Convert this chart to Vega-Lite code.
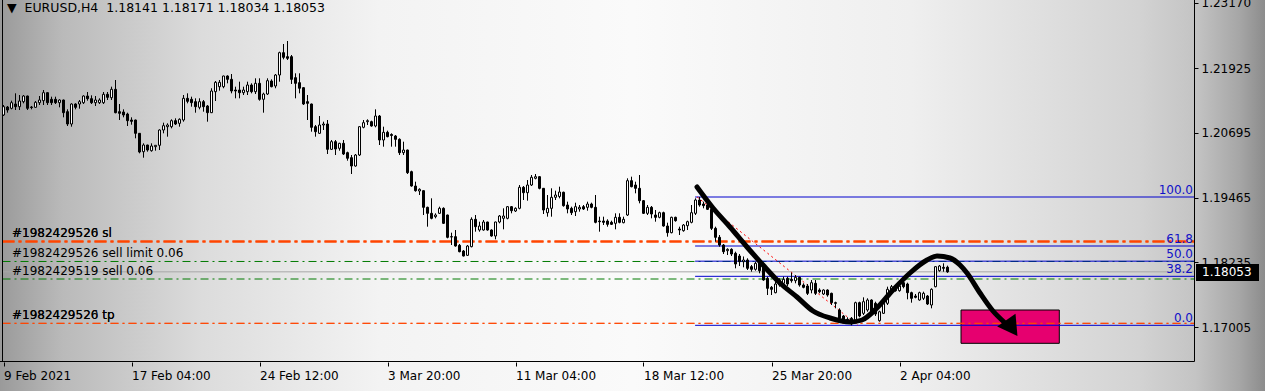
{
"$schema":"https://vega.github.io/schema/vega-lite/v6.json",
"width":1265,"height":391,"autosize":{"type":"none"},"padding":0,
"background":"#c0c0c0",
"config":{
 "view":{"stroke":null,"fill":{"gradient":"linear","x1":0,"y1":0,"x2":1,"y2":0,"stops":[{"offset":0,"color":"#9a9a9a"},{"offset":0.05,"color":"#bababa"},{"offset":0.16,"color":"#dcdcdc"},{"offset":0.3,"color":"#f3f3f3"},{"offset":0.5,"color":"#fafafa"},{"offset":0.72,"color":"#efefef"},{"offset":0.9,"color":"#d3d3d3"},{"offset":0.945,"color":"#c4c4c4"},{"offset":0.98,"color":"#a6a6a6"},{"offset":1,"color":"#8c8c8c"}]}},
 "scale":{"continuousPadding":0},
 "axis":{"labelFont":"DejaVu Sans","labelFontSize":12,"labelColor":"#000000","tickColor":"#000000","domain":false,"grid":false},
 "text":{"font":"DejaVu Sans","fontSize":12}
},
"datasets":{
 "candles":[
{"i":0,"o":1.21033,"h":1.21223,"l":1.21014,"c":1.21191},
{"i":1,"o":1.21185,"h":1.21204,"l":1.21077,"c":1.21128},
{"i":2,"o":1.2116,"h":1.21305,"l":1.21141,"c":1.21267},
{"i":3,"o":1.21242,"h":1.21445,"l":1.21128,"c":1.21191},
{"i":4,"o":1.21191,"h":1.21413,"l":1.21128,"c":1.21299},
{"i":5,"o":1.21286,"h":1.21413,"l":1.21255,"c":1.21394},
{"i":6,"o":1.21394,"h":1.214,"l":1.21128,"c":1.2116},
{"i":7,"o":1.21185,"h":1.21204,"l":1.21141,"c":1.21175},
{"i":8,"o":1.21179,"h":1.21299,"l":1.21166,"c":1.21274},
{"i":9,"o":1.21267,"h":1.21394,"l":1.21223,"c":1.21318},
{"i":10,"o":1.21305,"h":1.21508,"l":1.21223,"c":1.21457},
{"i":11,"o":1.21457,"h":1.21462,"l":1.21223,"c":1.21267},
{"i":12,"o":1.21331,"h":1.21381,"l":1.21223,"c":1.21267},
{"i":13,"o":1.21331,"h":1.21381,"l":1.21242,"c":1.21267},
{"i":14,"o":1.21267,"h":1.21331,"l":1.21179,"c":1.21318},
{"i":15,"o":1.21318,"h":1.21325,"l":1.20989,"c":1.21077},
{"i":16,"o":1.21096,"h":1.21141,"l":1.20824,"c":1.20862},
{"i":17,"o":1.20862,"h":1.21255,"l":1.20811,"c":1.21242},
{"i":18,"o":1.21242,"h":1.21255,"l":1.21141,"c":1.21179},
{"i":19,"o":1.21242,"h":1.21318,"l":1.21153,"c":1.21286},
{"i":20,"o":1.21267,"h":1.21407,"l":1.21242,"c":1.21394},
{"i":21,"o":1.21394,"h":1.2147,"l":1.21305,"c":1.21343},
{"i":22,"o":1.21343,"h":1.21407,"l":1.21242,"c":1.21267},
{"i":23,"o":1.21267,"h":1.21394,"l":1.21204,"c":1.21318},
{"i":24,"o":1.21267,"h":1.2135,"l":1.21242,"c":1.21318},
{"i":25,"o":1.21267,"h":1.2147,"l":1.21242,"c":1.21426},
{"i":26,"o":1.21426,"h":1.2147,"l":1.21318,"c":1.21369},
{"i":27,"o":1.21362,"h":1.21571,"l":1.21318,"c":1.21521},
{"i":28,"o":1.21521,"h":1.21698,"l":1.21065,"c":1.21077},
{"i":29,"o":1.21096,"h":1.21242,"l":1.20938,"c":1.21065},
{"i":30,"o":1.2109,"h":1.21141,"l":1.20989,"c":1.21033},
{"i":31,"o":1.21052,"h":1.21077,"l":1.20824,"c":1.20925},
{"i":32,"o":1.20938,"h":1.20989,"l":1.20849,"c":1.20913},
{"i":33,"o":1.20938,"h":1.20945,"l":1.2059,"c":1.20685},
{"i":34,"o":1.20685,"h":1.2069,"l":1.20305,"c":1.2033},
{"i":35,"o":1.20336,"h":1.20495,"l":1.20222,"c":1.20463},
{"i":36,"o":1.20463,"h":1.20468,"l":1.20336,"c":1.20368},
{"i":37,"o":1.20355,"h":1.20495,"l":1.20336,"c":1.20444},
{"i":38,"o":1.20431,"h":1.2046,"l":1.20355,"c":1.20457},
{"i":39,"o":1.20457,"h":1.20761,"l":1.20368,"c":1.20748},
{"i":40,"o":1.20748,"h":1.20887,"l":1.20685,"c":1.2083},
{"i":41,"o":1.20811,"h":1.20875,"l":1.20621,"c":1.20843},
{"i":42,"o":1.20811,"h":1.20951,"l":1.2078,"c":1.20925},
{"i":43,"o":1.20925,"h":1.2097,"l":1.20843,"c":1.20862},
{"i":44,"o":1.20875,"h":1.2097,"l":1.20811,"c":1.20951},
{"i":45,"o":1.20938,"h":1.21413,"l":1.20906,"c":1.2135},
{"i":46,"o":1.2135,"h":1.21445,"l":1.21255,"c":1.21293},
{"i":47,"o":1.21331,"h":1.21381,"l":1.21191,"c":1.21267},
{"i":48,"o":1.21286,"h":1.2135,"l":1.21077,"c":1.21191},
{"i":49,"o":1.21179,"h":1.2135,"l":1.21141,"c":1.21286},
{"i":50,"o":1.21286,"h":1.21318,"l":1.21096,"c":1.21191},
{"i":51,"o":1.21204,"h":1.21223,"l":1.20906,"c":1.21077},
{"i":52,"o":1.21077,"h":1.21541,"l":1.2107,"c":1.21489},
{"i":53,"o":1.21476,"h":1.21679,"l":1.21299,"c":1.21654},
{"i":54,"o":1.21571,"h":1.21698,"l":1.21495,"c":1.21654},
{"i":55,"o":1.21571,"h":1.2178,"l":1.21541,"c":1.21774},
{"i":56,"o":1.21774,"h":1.21787,"l":1.21635,"c":1.21711},
{"i":57,"o":1.21711,"h":1.21812,"l":1.21445,"c":1.21489},
{"i":58,"o":1.21508,"h":1.21571,"l":1.2135,"c":1.21489},
{"i":59,"o":1.21508,"h":1.21666,"l":1.2135,"c":1.21457},
{"i":60,"o":1.21457,"h":1.21571,"l":1.21413,"c":1.21508},
{"i":61,"o":1.21476,"h":1.21666,"l":1.21413,"c":1.21603},
{"i":62,"o":1.21603,"h":1.21635,"l":1.21445,"c":1.21476},
{"i":63,"o":1.21476,"h":1.2173,"l":1.21432,"c":1.21635},
{"i":64,"o":1.21635,"h":1.2173,"l":1.21305,"c":1.21331},
{"i":65,"o":1.21331,"h":1.21457,"l":1.21077,"c":1.21432},
{"i":66,"o":1.21432,"h":1.2173,"l":1.21413,"c":1.21685},
{"i":67,"o":1.21679,"h":1.21711,"l":1.21559,"c":1.21571},
{"i":68,"o":1.21584,"h":1.21812,"l":1.21541,"c":1.21793},
{"i":69,"o":1.21793,"h":1.22236,"l":1.21666,"c":1.22217},
{"i":70,"o":1.22217,"h":1.22382,"l":1.22091,"c":1.22129},
{"i":71,"o":1.22141,"h":1.22439,"l":1.22078,"c":1.2211},
{"i":72,"o":1.22141,"h":1.22173,"l":1.21622,"c":1.21711},
{"i":73,"o":1.21742,"h":1.21825,"l":1.2135,"c":1.21635},
{"i":74,"o":1.21647,"h":1.21825,"l":1.21445,"c":1.21541},
{"i":75,"o":1.21552,"h":1.21559,"l":1.21223,"c":1.21242},
{"i":76,"o":1.21286,"h":1.21413,"l":1.20938,"c":1.21255},
{"i":77,"o":1.21242,"h":1.2125,"l":1.20716,"c":1.20799},
{"i":78,"o":1.20811,"h":1.20843,"l":1.20621,"c":1.20716},
{"i":79,"o":1.20685,"h":1.21014,"l":1.20672,"c":1.20843},
{"i":80,"o":1.20843,"h":1.20906,"l":1.20748,"c":1.20862},
{"i":81,"o":1.20862,"h":1.20938,"l":1.20292,"c":1.20381},
{"i":82,"o":1.20381,"h":1.20558,"l":1.20368,"c":1.20526},
{"i":83,"o":1.20526,"h":1.20558,"l":1.20273,"c":1.20387},
{"i":84,"o":1.204,"h":1.20505,"l":1.20355,"c":1.20495},
{"i":85,"o":1.20495,"h":1.20558,"l":1.20273,"c":1.20292},
{"i":86,"o":1.20317,"h":1.20336,"l":1.20165,"c":1.20211},
{"i":87,"o":1.20222,"h":1.20273,"l":1.19912,"c":1.20064},
{"i":88,"o":1.20064,"h":1.20292,"l":1.20051,"c":1.20273},
{"i":89,"o":1.20273,"h":1.20818,"l":1.20254,"c":1.20811},
{"i":90,"o":1.20799,"h":1.20938,"l":1.2078,"c":1.20887},
{"i":91,"o":1.20906,"h":1.20951,"l":1.20843,"c":1.20925},
{"i":92,"o":1.20906,"h":1.20925,"l":1.20811,"c":1.20824},
{"i":93,"o":1.20824,"h":1.21141,"l":1.20799,"c":1.21014},
{"i":94,"o":1.21014,"h":1.21033,"l":1.20463,"c":1.20558},
{"i":95,"o":1.20558,"h":1.20811,"l":1.20431,"c":1.20704},
{"i":96,"o":1.20704,"h":1.20735,"l":1.20609,"c":1.20621},
{"i":97,"o":1.20663,"h":1.20685,"l":1.20431,"c":1.20644},
{"i":98,"o":1.20634,"h":1.20653,"l":1.20431,"c":1.20571},
{"i":99,"o":1.20571,"h":1.2059,"l":1.20273,"c":1.20317},
{"i":100,"o":1.20317,"h":1.20526,"l":1.20273,"c":1.20368},
{"i":101,"o":1.20368,"h":1.20375,"l":1.19912,"c":1.19937},
{"i":102,"o":1.19956,"h":1.19975,"l":1.19671,"c":1.19684},
{"i":103,"o":1.19684,"h":1.19766,"l":1.19576,"c":1.19595},
{"i":104,"o":1.19589,"h":1.1964,"l":1.19513,"c":1.19621},
{"i":105,"o":1.19595,"h":1.196,"l":1.19133,"c":1.19279},
{"i":106,"o":1.19279,"h":1.19291,"l":1.18911,"c":1.19165},
{"i":107,"o":1.19165,"h":1.1945,"l":1.19051,"c":1.1907},
{"i":108,"o":1.19101,"h":1.19165,"l":1.1907,"c":1.19133},
{"i":109,"o":1.19165,"h":1.19291,"l":1.19152,"c":1.1926},
{"i":110,"o":1.1926,"h":1.19279,"l":1.18962,"c":1.18975},
{"i":111,"o":1.19133,"h":1.1914,"l":1.1869,"c":1.18709},
{"i":112,"o":1.18721,"h":1.18797,"l":1.18563,"c":1.18715},
{"i":113,"o":1.18721,"h":1.18848,"l":1.18531,"c":1.18544},
{"i":114,"o":1.18557,"h":1.18582,"l":1.18424,"c":1.18436},
{"i":115,"o":1.18449,"h":1.18468,"l":1.18345,"c":1.18354},
{"i":116,"o":1.18367,"h":1.18563,"l":1.18354,"c":1.18544},
{"i":117,"o":1.18531,"h":1.19089,"l":1.18519,"c":1.19051},
{"i":118,"o":1.19051,"h":1.19133,"l":1.18816,"c":1.18911},
{"i":119,"o":1.18848,"h":1.19006,"l":1.18816,"c":1.18924},
{"i":120,"o":1.18848,"h":1.19038,"l":1.18835,"c":1.19},
{"i":121,"o":1.19,"h":1.19006,"l":1.18835,"c":1.18848},
{"i":122,"o":1.18848,"h":1.18861,"l":1.18721,"c":1.18734},
{"i":123,"o":1.18734,"h":1.19006,"l":1.18671,"c":1.19},
{"i":124,"o":1.19,"h":1.19133,"l":1.18975,"c":1.19114},
{"i":125,"o":1.1907,"h":1.1926,"l":1.18861,"c":1.19114},
{"i":126,"o":1.1907,"h":1.19304,"l":1.19051,"c":1.19291},
{"i":127,"o":1.19291,"h":1.19304,"l":1.19165,"c":1.19215},
{"i":128,"o":1.19209,"h":1.19279,"l":1.1919,"c":1.1926},
{"i":129,"o":1.1926,"h":1.19703,"l":1.19241,"c":1.19659},
{"i":130,"o":1.19659,"h":1.19684,"l":1.19418,"c":1.19557},
{"i":131,"o":1.19557,"h":1.19798,"l":1.19405,"c":1.19703},
{"i":132,"o":1.19703,"h":1.19893,"l":1.19684,"c":1.19849},
{"i":133,"o":1.1983,"h":1.19912,"l":1.19811,"c":1.19861},
{"i":134,"o":1.19861,"h":1.1987,"l":1.19621,"c":1.1964},
{"i":135,"o":1.1964,"h":1.19645,"l":1.19152,"c":1.19228},
{"i":136,"o":1.19177,"h":1.19513,"l":1.19101,"c":1.1926},
{"i":137,"o":1.1926,"h":1.1964,"l":1.19101,"c":1.19469},
{"i":138,"o":1.19469,"h":1.19595,"l":1.19418,"c":1.19513},
{"i":139,"o":1.19485,"h":1.19671,"l":1.1945,"c":1.1957},
{"i":140,"o":1.19565,"h":1.19576,"l":1.19291,"c":1.1931},
{"i":141,"o":1.19323,"h":1.19386,"l":1.19165,"c":1.19247},
{"i":142,"o":1.1926,"h":1.19291,"l":1.19133,"c":1.19177},
{"i":143,"o":1.19196,"h":1.19367,"l":1.19114,"c":1.19291},
{"i":144,"o":1.19247,"h":1.19323,"l":1.19196,"c":1.19279},
{"i":145,"o":1.19291,"h":1.19323,"l":1.19228,"c":1.19247},
{"i":146,"o":1.19279,"h":1.19386,"l":1.19215,"c":1.19342},
{"i":147,"o":1.19342,"h":1.19367,"l":1.1926,"c":1.19279},
{"i":148,"o":1.19279,"h":1.19513,"l":1.18975,"c":1.18994},
{"i":149,"o":1.19019,"h":1.19101,"l":1.18816,"c":1.19006},
{"i":150,"o":1.19019,"h":1.19101,"l":1.18943,"c":1.18994},
{"i":151,"o":1.19019,"h":1.19051,"l":1.18911,"c":1.18956},
{"i":152,"o":1.18994,"h":1.19025,"l":1.18943,"c":1.18956},
{"i":153,"o":1.18975,"h":1.19165,"l":1.18861,"c":1.19089},
{"i":154,"o":1.19089,"h":1.19165,"l":1.18975,"c":1.18994},
{"i":155,"o":1.18987,"h":1.19101,"l":1.18975,"c":1.19051},
{"i":156,"o":1.19133,"h":1.1983,"l":1.19114,"c":1.19785},
{"i":157,"o":1.19785,"h":1.19861,"l":1.19659,"c":1.19671},
{"i":158,"o":1.19703,"h":1.19766,"l":1.19545,"c":1.1964},
{"i":159,"o":1.1964,"h":1.19893,"l":1.19355,"c":1.19405},
{"i":160,"o":1.19405,"h":1.19418,"l":1.19152,"c":1.19165},
{"i":161,"o":1.19165,"h":1.19323,"l":1.19133,"c":1.19279},
{"i":162,"o":1.19279,"h":1.19304,"l":1.1907,"c":1.19152},
{"i":163,"o":1.19133,"h":1.19228,"l":1.19006,"c":1.19089},
{"i":164,"o":1.19089,"h":1.19196,"l":1.1907,"c":1.19177},
{"i":165,"o":1.19177,"h":1.19196,"l":1.18911,"c":1.18924},
{"i":166,"o":1.18924,"h":1.18987,"l":1.18721,"c":1.18797},
{"i":167,"o":1.18797,"h":1.19101,"l":1.18785,"c":1.19089},
{"i":168,"o":1.19089,"h":1.19101,"l":1.19006,"c":1.19025},
{"i":169,"o":1.18867,"h":1.18911,"l":1.18753,"c":1.18848},
{"i":170,"o":1.18835,"h":1.18962,"l":1.18816,"c":1.18943},
{"i":171,"o":1.1893,"h":1.19025,"l":1.18848,"c":1.19006},
{"i":172,"o":1.18994,"h":1.19323,"l":1.18975,"c":1.19177},
{"i":173,"o":1.19165,"h":1.1945,"l":1.19133,"c":1.19418},
{"i":174,"o":1.19418,"h":1.19475,"l":1.19291,"c":1.19323},
{"i":175,"o":1.19342,"h":1.19386,"l":1.1926,"c":1.1931},
{"i":176,"o":1.19323,"h":1.19355,"l":1.19228,"c":1.19241},
{"i":177,"o":1.19241,"h":1.1926,"l":1.18848,"c":1.1888},
{"i":178,"o":1.1888,"h":1.18911,"l":1.18626,"c":1.18709},
{"i":179,"o":1.18709,"h":1.18753,"l":1.18531,"c":1.18563},
{"i":180,"o":1.18563,"h":1.18582,"l":1.18392,"c":1.18436},
{"i":181,"o":1.18455,"h":1.185,"l":1.18373,"c":1.18481},
{"i":182,"o":1.18481,"h":1.185,"l":1.18354,"c":1.18392},
{"i":183,"o":1.18405,"h":1.18436,"l":1.1812,"c":1.18202},
{"i":184,"o":1.18354,"h":1.18392,"l":1.18164,"c":1.18246},
{"i":185,"o":1.18246,"h":1.18345,"l":1.18139,"c":1.18278},
{"i":186,"o":1.18278,"h":1.1831,"l":1.18088,"c":1.1812},
{"i":187,"o":1.18151,"h":1.18183,"l":1.18056,"c":1.18101},
{"i":188,"o":1.18101,"h":1.18246,"l":1.18075,"c":1.18215},
{"i":189,"o":1.18227,"h":1.18278,"l":1.18025,"c":1.18075},
{"i":190,"o":1.18183,"h":1.18215,"l":1.17885,"c":1.17898},
{"i":191,"o":1.1793,"h":1.17961,"l":1.17613,"c":1.1774},
{"i":192,"o":1.17759,"h":1.17784,"l":1.17613,"c":1.17721},
{"i":193,"o":1.17657,"h":1.17865,"l":1.17645,"c":1.17822},
{"i":194,"o":1.17898,"h":1.1793,"l":1.17771,"c":1.17803},
{"i":195,"o":1.17835,"h":1.17961,"l":1.17803,"c":1.17911},
{"i":196,"o":1.1793,"h":1.17961,"l":1.17784,"c":1.17822},
{"i":197,"o":1.17911,"h":1.18037,"l":1.17847,"c":1.17885},
{"i":198,"o":1.17885,"h":1.17993,"l":1.17835,"c":1.17949},
{"i":199,"o":1.17949,"h":1.17961,"l":1.17771,"c":1.17803},
{"i":200,"o":1.17803,"h":1.17835,"l":1.1774,"c":1.17759},
{"i":201,"o":1.17784,"h":1.17822,"l":1.17613,"c":1.17645},
{"i":202,"o":1.17708,"h":1.17898,"l":1.17645,"c":1.17847},
{"i":203,"o":1.17835,"h":1.17898,"l":1.17613,"c":1.17645},
{"i":204,"o":1.17708,"h":1.1774,"l":1.17645,"c":1.17676},
{"i":205,"o":1.17632,"h":1.17721,"l":1.17613,"c":1.17708},
{"i":206,"o":1.17708,"h":1.17721,"l":1.17581,"c":1.17613},
{"i":207,"o":1.17645,"h":1.17657,"l":1.17423,"c":1.17467},
{"i":208,"o":1.17467,"h":1.17486,"l":1.1736,"c":1.17455},
{"i":209,"o":1.17328,"h":1.1736,"l":1.17138,"c":1.1717},
{"i":210,"o":1.17214,"h":1.17233,"l":1.17125,"c":1.17138},
{"i":211,"o":1.17151,"h":1.17189,"l":1.17087,"c":1.17125},
{"i":212,"o":1.1717,"h":1.17195,"l":1.17037,"c":1.17062},
{"i":213,"o":1.17138,"h":1.17486,"l":1.17125,"c":1.17467},
{"i":214,"o":1.17467,"h":1.17486,"l":1.17189,"c":1.17214},
{"i":215,"o":1.17265,"h":1.17569,"l":1.17233,"c":1.17486},
{"i":216,"o":1.17328,"h":1.1755,"l":1.17295,"c":1.17518},
{"i":217,"o":1.17518,"h":1.17531,"l":1.17277,"c":1.17295},
{"i":218,"o":1.17455,"h":1.17486,"l":1.17214,"c":1.17252},
{"i":219,"o":1.17125,"h":1.17315,"l":1.17106,"c":1.17295},
{"i":220,"o":1.17265,"h":1.17518,"l":1.17252,"c":1.17455},
{"i":221,"o":1.17455,"h":1.17771,"l":1.17423,"c":1.17721},
{"i":222,"o":1.17708,"h":1.17803,"l":1.17676,"c":1.17771},
{"i":223,"o":1.17771,"h":1.17803,"l":1.17676,"c":1.17695},
{"i":224,"o":1.17695,"h":1.17835,"l":1.17676,"c":1.17784},
{"i":225,"o":1.17847,"h":1.17885,"l":1.1774,"c":1.17771},
{"i":226,"o":1.17822,"h":1.17847,"l":1.17531,"c":1.17657},
{"i":227,"o":1.17657,"h":1.17676,"l":1.17467,"c":1.1755},
{"i":228,"o":1.17594,"h":1.17632,"l":1.1755,"c":1.17569},
{"i":229,"o":1.17518,"h":1.17676,"l":1.17505,"c":1.17657},
{"i":230,"o":1.1755,"h":1.17676,"l":1.17518,"c":1.17645},
{"i":231,"o":1.17594,"h":1.17613,"l":1.17423,"c":1.17442},
{"i":232,"o":1.17423,"h":1.1774,"l":1.1736,"c":1.17721},
{"i":233,"o":1.17771,"h":1.18164,"l":1.17759,"c":1.18151},
{"i":234,"o":1.18075,"h":1.18183,"l":1.18056,"c":1.18164},
{"i":235,"o":1.18139,"h":1.18215,"l":1.18056,"c":1.1812},
{"i":236,"o":1.18141,"h":1.18171,"l":1.18034,"c":1.18053}
 ],
 "orders":[
  {"ticket":"#1982429520 sl","price":1.1863,"type":"sl"},
  {"ticket":"#1982429526 sl","price":1.1863,"type":"sl"},
  {"ticket":"#1982429526 sell limit 0.06","price":1.1825,"type":"entry"},
  {"ticket":"#1982429519 sell 0.06","price":1.17917,"type":"entry"},
  {"ticket":"#1982429520 tp","price":1.17075,"type":"tp"},
  {"ticket":"#1982429526 tp","price":1.17075,"type":"tp"}
 ],
 "fib":[
  {"level":"100.0","price":1.19475},
  {"level":"61.8","price":1.18544},
  {"level":"50.0","price":1.18256},
  {"level":"38.2","price":1.17968},
  {"level":"0.0","price":1.17037}
 ],
 "trend":[{"i":173.4,"p":1.19475},{"i":213.6,"p":1.17037}],
 "bid":[{"price":1.18053}],
 "header":[{"label":"▼\u00a0\u00a0EURUSD,H4\u00a0\u00a01.18141 1.18171 1.18034 1.18053"}],
 "box":[{"i0":239.375,"i1":263.95,"p0":1.17328,"p1":1.16695}],
 "arrow":[{"i":252.1,"p":1.16986}],
 "curve":[
  {"i":173.375,"p":1.19665},{"i":177.375,"p":1.19266},{"i":181.625,"p":1.18905},{"i":185.875,"p":1.18525},
  {"i":189.875,"p":1.18183},{"i":194.125,"p":1.17841},{"i":198.375,"p":1.17575},{"i":202.375,"p":1.17309},
  {"i":206.625,"p":1.17176},{"i":211.625,"p":1.171},{"i":214.625,"p":1.17138},{"i":218.375,"p":1.17366},
  {"i":222.375,"p":1.17708},{"i":226.625,"p":1.18031},{"i":230.875,"p":1.18278},{"i":233.375,"p":1.18354},
  {"i":236.625,"p":1.18316},{"i":239.125,"p":1.18183},{"i":240.875,"p":1.18031},{"i":244.125,"p":1.17651},
  {"i":247.375,"p":1.17309},{"i":250.125,"p":1.171}
 ]
},
"layer":[
 {"data":{"name":"box"},
  "mark":{"type":"rect","fill":"#E6006F","stroke":"#000000","strokeWidth":1},
  "encoding":{
   "x":{"field":"i0","type":"quantitative","title":null,"scale":{"domain":[-0.875,315.375],"nice":false,"zero":false,"padding":0},
        "axis":{"orient":"bottom","offset":-29,"values":[0,32,64,96,128,160,192,224],"labelExpr":"['9 Feb 2021','17 Feb 04:00','24 Feb 12:00','3 Mar 20:00','11 Mar 04:00','18 Mar 12:00','25 Mar 20:00','2 Apr 04:00'][round(datum.value/32)]","labelAlign":"left","labelBaseline":"top","labelPadding":4,"tickSize":4,"domain":false,"grid":false,"labelOverlap":false,"labelFlush":false,"labelBound":false}},
   "x2":{"field":"i1"},
   "y":{"field":"p0","type":"quantitative","title":null,"scale":{"domain":[1.15789,1.23218],"nice":false,"zero":false,"padding":0},
        "axis":{"orient":"right","offset":-71,"values":[1.2317,1.21925,1.20695,1.19465,1.18235,1.17005],"format":".5f","labelAlign":"left","labelBaseline":"middle","labelPadding":3,"tickSize":4,"domain":false,"grid":false,"labelOverlap":false,"labelFlush":false,"labelBound":false}},
   "y2":{"field":"p1"}
  }},
 {"data":{"name":"orders"},"transform":[{"filter":"datum.type == 'sl'"}],
  "mark":{"type":"rule","color":"#FF4500","strokeWidth":2,"strokeDash":[12,4,3,4]},
  "encoding":{"y":{"field":"price","type":"quantitative","title":null,"scale":{"domain":[1.15789,1.23218],"nice":false,"zero":false,"padding":0}},
   "x":{"datum":-0.25,"type":"quantitative","scale":{"domain":[-0.875,315.375],"nice":false,"zero":false,"padding":0}},"x2":{"datum":297.75}}},
 {"data":{"name":"orders"},"transform":[{"filter":"datum.type == 'entry'"}],
  "mark":{"type":"rule","color":"#007A00","strokeWidth":1,"strokeDash":[8,4,2,4]},
  "encoding":{"y":{"field":"price","type":"quantitative","title":null,"scale":{"domain":[1.15789,1.23218],"nice":false,"zero":false,"padding":0}},
   "x":{"datum":-0.25,"type":"quantitative","scale":{"domain":[-0.875,315.375],"nice":false,"zero":false,"padding":0}},"x2":{"datum":297.75}}},
 {"data":{"name":"orders"},"transform":[{"filter":"datum.type == 'tp'"}],
  "mark":{"type":"rule","color":"#FF4500","strokeWidth":1,"strokeDash":[8,4,2,4]},
  "encoding":{"y":{"field":"price","type":"quantitative","title":null,"scale":{"domain":[1.15789,1.23218],"nice":false,"zero":false,"padding":0}},
   "x":{"datum":-0.25,"type":"quantitative","scale":{"domain":[-0.875,315.375],"nice":false,"zero":false,"padding":0}},"x2":{"datum":297.75}}},
 {"data":{"name":"bid"},
  "mark":{"type":"rule","color":"#a8a8a8","strokeWidth":1},
  "encoding":{"y":{"field":"price","type":"quantitative","title":null,"scale":{"domain":[1.15789,1.23218],"nice":false,"zero":false,"padding":0}},
   "x":{"datum":-0.25,"type":"quantitative","scale":{"domain":[-0.875,315.375],"nice":false,"zero":false,"padding":0}},"x2":{"datum":297.75}}},
 {"data":{"name":"fib"},
  "mark":{"type":"rule","color":"#0000CD","strokeWidth":1},
  "encoding":{"y":{"field":"price","type":"quantitative","title":null,"scale":{"domain":[1.15789,1.23218],"nice":false,"zero":false,"padding":0}},
   "x":{"datum":172.9,"type":"quantitative","scale":{"domain":[-0.875,315.375],"nice":false,"zero":false,"padding":0}},"x2":{"datum":297.75}}},
 {"data":{"name":"trend"},
  "mark":{"type":"line","color":"#FF0000","strokeWidth":1,"strokeDash":[2,3]},
  "encoding":{"x":{"field":"i","type":"quantitative","title":null,"scale":{"domain":[-0.875,315.375],"nice":false,"zero":false,"padding":0}},
   "y":{"field":"p","type":"quantitative","title":null,"scale":{"domain":[1.15789,1.23218],"nice":false,"zero":false,"padding":0}}}},
 {"data":{"name":"candles"},
  "mark":{"type":"rule","color":"#000000","strokeWidth":1},
  "encoding":{"x":{"field":"i","type":"quantitative","title":null,"scale":{"domain":[-0.875,315.375],"nice":false,"zero":false,"padding":0}},
   "y":{"field":"l","type":"quantitative","title":null,"scale":{"domain":[1.15789,1.23218],"nice":false,"zero":false,"padding":0}},
   "y2":{"field":"h"}}},
 {"data":{"name":"candles"},
  "mark":{"type":"bar","size":2,"stroke":"#000000","strokeWidth":1,"orient":"vertical"},
  "encoding":{"x":{"field":"i","type":"quantitative","title":null,"scale":{"domain":[-0.875,315.375],"nice":false,"zero":false,"padding":0}},
   "y":{"field":"o","type":"quantitative","title":null,"scale":{"domain":[1.15789,1.23218],"nice":false,"zero":false,"padding":0}},
   "y2":{"field":"c"},
   "fill":{"condition":{"test":"datum.c >= datum.o","value":"#ffffff"},"value":"#000000"}}},
 {"data":{"name":"curve"},
  "mark":{"type":"line","color":"#000000","strokeWidth":5,"strokeCap":"round","strokeJoin":"round","interpolate":"monotone"},
  "encoding":{"x":{"field":"i","type":"quantitative","title":null,"scale":{"domain":[-0.875,315.375],"nice":false,"zero":false,"padding":0}},
   "y":{"field":"p","type":"quantitative","title":null,"scale":{"domain":[1.15789,1.23218],"nice":false,"zero":false,"padding":0}}}},
 {"data":{"name":"arrow"},
  "mark":{"type":"point","shape":"triangle-down","size":500,"angle":325,"filled":true,"color":"#000000","opacity":1},
  "encoding":{"x":{"field":"i","type":"quantitative","title":null,"scale":{"domain":[-0.875,315.375],"nice":false,"zero":false,"padding":0}},
   "y":{"field":"p","type":"quantitative","title":null,"scale":{"domain":[1.15789,1.23218],"nice":false,"zero":false,"padding":0}}}},
 {"data":{"name":"orders"},
  "mark":{"type":"text","align":"left","baseline":"alphabetic","dy":-4,"color":"#000000"},
  "encoding":{"text":{"field":"ticket"},
   "x":{"datum":2.125,"type":"quantitative","scale":{"domain":[-0.875,315.375],"nice":false,"zero":false,"padding":0}},
   "y":{"field":"price","type":"quantitative","title":null,"scale":{"domain":[1.15789,1.23218],"nice":false,"zero":false,"padding":0}}}},
 {"data":{"name":"fib"},
  "mark":{"type":"text","align":"right","baseline":"alphabetic","dy":-3,"color":"#1010C8"},
  "encoding":{"text":{"field":"level"},
   "x":{"datum":297.375,"type":"quantitative","scale":{"domain":[-0.875,315.375],"nice":false,"zero":false,"padding":0}},
   "y":{"field":"price","type":"quantitative","title":null,"scale":{"domain":[1.15789,1.23218],"nice":false,"zero":false,"padding":0}}}},
 {"data":{"name":"header"},
  "mark":{"type":"text","align":"left","baseline":"alphabetic","fontSize":12.5,"color":"#000000"},
  "encoding":{"text":{"field":"label"},
   "x":{"datum":0.875,"type":"quantitative","scale":{"domain":[-0.875,315.375],"nice":false,"zero":false,"padding":0}},
   "y":{"datum":1.2299,"type":"quantitative","scale":{"domain":[1.15789,1.23218],"nice":false,"zero":false,"padding":0}}}},
 {"data":{"values":[{}]},
  "mark":{"type":"rule","color":"#000000","strokeWidth":1},
  "encoding":{"x":{"datum":-0.25,"type":"quantitative","scale":{"domain":[-0.875,315.375],"nice":false,"zero":false,"padding":0}},
   "y":{"datum":1.163495,"type":"quantitative","scale":{"domain":[1.15789,1.23218],"nice":false,"zero":false,"padding":0}},"y2":{"datum":1.23218}}},
 {"data":{"values":[{}]},
  "mark":{"type":"rule","color":"#000000","strokeWidth":1},
  "encoding":{"x":{"datum":297.75,"type":"quantitative","scale":{"domain":[-0.875,315.375],"nice":false,"zero":false,"padding":0}},
   "y":{"datum":1.163495,"type":"quantitative","scale":{"domain":[1.15789,1.23218],"nice":false,"zero":false,"padding":0}},"y2":{"datum":1.23218}}},
 {"data":{"values":[{}]},
  "mark":{"type":"rule","color":"#000000","strokeWidth":1},
  "encoding":{"x":{"datum":-0.875,"type":"quantitative","scale":{"domain":[-0.875,315.375],"nice":false,"zero":false,"padding":0}},"x2":{"datum":297.75},
   "y":{"datum":1.163495,"type":"quantitative","scale":{"domain":[1.15789,1.23218],"nice":false,"zero":false,"padding":0}}}},
 {"data":{"values":[{}]},
  "mark":{"type":"rect","fill":"#000000"},
  "encoding":{"x":{"datum":298.125,"type":"quantitative","scale":{"domain":[-0.875,315.375],"nice":false,"zero":false,"padding":0}},"x2":{"datum":313.875},
   "y":{"datum":1.18202,"type":"quantitative","scale":{"domain":[1.15789,1.23218],"nice":false,"zero":false,"padding":0}},"y2":{"datum":1.17879}}},
 {"data":{"name":"bid"},
  "mark":{"type":"text","align":"left","baseline":"middle","color":"#ffffff"},
  "encoding":{"text":{"field":"price","format":".5f"},
   "x":{"datum":299.625,"type":"quantitative","scale":{"domain":[-0.875,315.375],"nice":false,"zero":false,"padding":0}},
   "y":{"field":"price","type":"quantitative","title":null,"scale":{"domain":[1.15789,1.23218],"nice":false,"zero":false,"padding":0}}}}
]
}
